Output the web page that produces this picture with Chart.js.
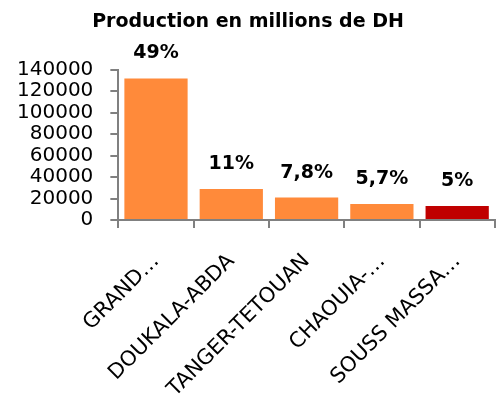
<!DOCTYPE html>
<html>
<head>
<meta charset="utf-8">
<script src="https://cdn.jsdelivr.net/npm/chart.js@4"></script>
<style>
  html, body { margin: 0; padding: 0; background: #fff; }
  #wrap { width: 496px; height: 403px; }
</style>
</head>
<body>
<div id="wrap"><canvas id="chart"></canvas></div>
<script>
// data
const regions = ['GRAND…', 'DOUKALA-ABDA', 'TANGER-TETOUAN', 'CHAOUIA-…', 'SOUSS MASSA…'];
const production = [132000, 29000, 21000, 15000, 13000];
const shares = ['49%', '11%', '7,8%', '5,7%', '5%'];
const barColors = ['#FF8A3A', '#FF8A3A', '#FF8A3A', '#FF8A3A', '#C00000'];
const yMax = 140000;
const yStep = 20000;

const FONT = '"DejaVu Sans", sans-serif';
const AXIS_GRAY = '#808080';

// percentage labels above each bar
const shareLabels = {
  id: 'shareLabels',
  afterDatasetsDraw(chart) {
    const ctx = chart.ctx;
    const meta = chart.getDatasetMeta(0);
    ctx.save();
    ctx.font = 'bold 19px ' + FONT;
    ctx.fillStyle = '#000';
    ctx.textAlign = 'center';
    ctx.textBaseline = 'alphabetic';
    meta.data.forEach((bar, i) => {
      ctx.fillText(shares[i], bar.x, bar.y - 20);
    });
    ctx.restore();
  }
};

new Chart(document.getElementById('chart'), {
  type: 'bar',
  data: {
    labels: regions,
    datasets: [{
      data: production,
      backgroundColor: barColors,
      categoryPercentage: 1,
      barPercentage: 0.84
    }]
  },
  options: {
    responsive: true,
    maintainAspectRatio: false,
    animation: false,
    layout: { padding: { left: 0, right: 0, top: 0, bottom: -20 } },
    plugins: {
      legend: { display: false },
      tooltip: { enabled: false },
      title: {
        display: true,
        text: 'Production en millions de DH',
        color: '#000',
        font: { family: FONT, size: 19, weight: 'bold' },
        padding: { top: 11, bottom: 36 }
      }
    },
    scales: {
      x: {
        border: { color: AXIS_GRAY, width: 2 },
        grid: { drawOnChartArea: false, tickLength: 8, color: AXIS_GRAY, lineWidth: 2 },
        ticks: {
          color: '#000',
          font: { family: FONT, size: 21 },
          minRotation: 45,
          maxRotation: 45,
          autoSkip: false,
          padding: 21,
          labelOffset: 0
        }
      },
      y: {
        min: 0,
        max: yMax,
        border: { color: AXIS_GRAY, width: 2 },
        grid: { drawOnChartArea: false, tickLength: 8, color: AXIS_GRAY, lineWidth: 2 },
        ticks: {
          stepSize: yStep,
          autoSkip: false,
          color: '#000',
          font: { family: FONT, size: 20 },
          padding: 17,
          callback: v => String(v)
        }
      }
    }
  },
  plugins: [shareLabels]
});
</script>
</body>
</html>
